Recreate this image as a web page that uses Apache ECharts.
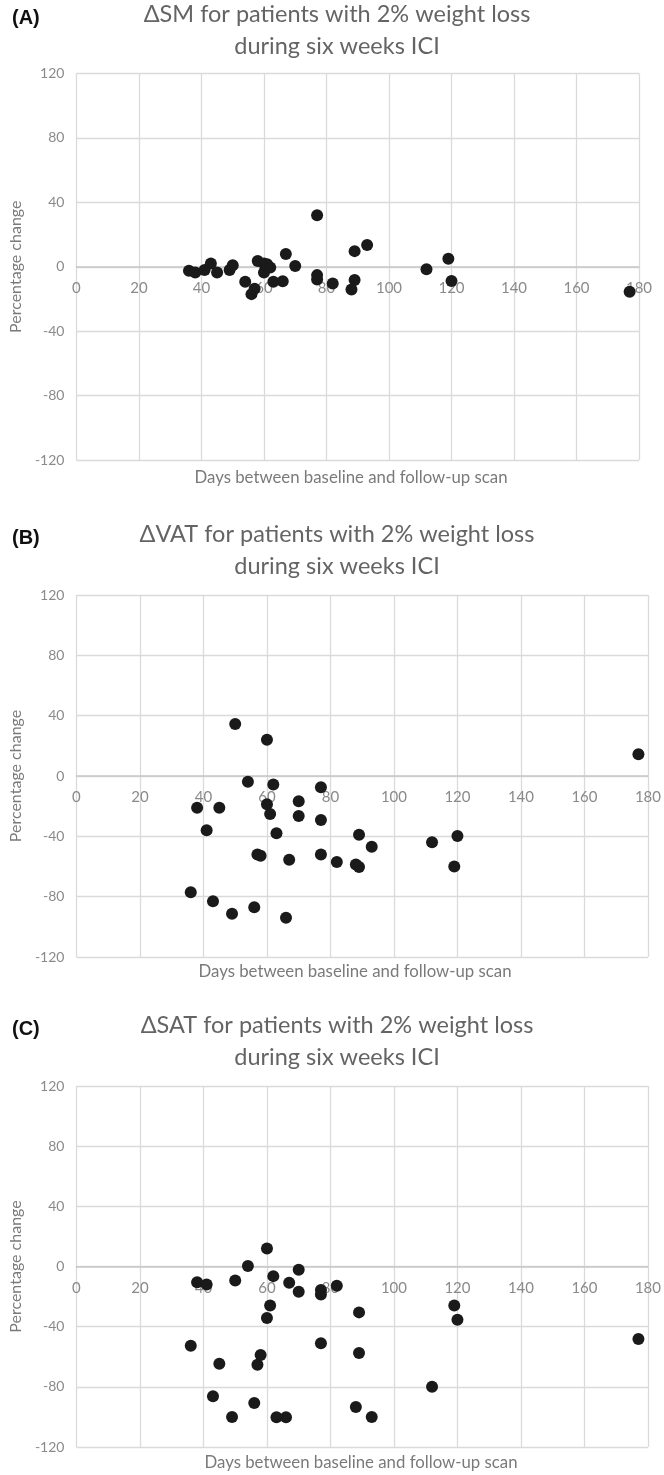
<!DOCTYPE html>
<html>
<head>
<meta charset="utf-8">
<script src="https://cdn.jsdelivr.net/npm/echarts@6/dist/echarts.min.js"></script>
<style>
html,body{margin:0;padding:0;background:#fff;}
#chart{width:664px;height:1475px;}
</style>
</head>
<body>
<div id="chart"></div>
<script>
// ---- data ----
const panelLetters = ['(A)', '(B)', '(C)'];
const panelTitles = [
  'ΔSM for patients with 2% weight loss\nduring six weeks ICI',
  'ΔVAT for patients with 2% weight loss\nduring six weeks ICI',
  'ΔSAT for patients with 2% weight loss\nduring six weeks ICI'
];
const xAxisName = 'Days between baseline and follow-up scan';
const yAxisName = 'Percentage change';

const daysA = [36,38,41,43,45,49,50,54,56,57,58,60,60,61,62,63,66,67,70,77,77,77,82,88,89,89,93,112,119,120,177];
const smChange = [-2.5,-3.5,-2,2,-3.5,-2,1,-9.3,-17,-13.7,3.5,2,-3.5,1.5,-0.5,-9.3,-9,7.9,0.4,32,-5.2,-7.9,-10.4,-14.1,9.7,-8.3,13.5,-1.5,5,-8.9,-15.5];

const daysB = [36,38,41,43,45,49,50,54,56,57,58,60,60,61,62,63,66,67,70,70,77,77,77,82,88,89,89,93,112,119,120,177];
const vatChange = [-77,-21,-36,-83,-21,-91.3,34.5,-3.8,-87,-52,-52.8,24,-18.8,-25.2,-5.7,-38,-94,-55.5,-16.8,-26.5,-7.5,-29.2,-52,-57,-58.7,-39,-60.4,-46.9,-44,-60,-39.8,14.4];

const daysC = [36,38,41,43,45,49,50,54,56,57,58,60,60,61,62,63,66,67,70,70,77,77,77,82,88,89,89,93,112,119,120,177];
const satChange = [-52.7,-10.4,-12,-86.3,-64.6,-100,-9.3,0.4,-90.7,-65.3,-58.8,12,-34.3,-25.9,-6.4,-100.2,-100.2,-10.8,-2.2,-16.8,-15.7,-18.6,-51.1,-12.8,-93.4,-30.5,-57.5,-100,-79.9,-25.9,-35.4,-48.2];

const xMin = 0, xMax = 180, xStep = 20;
const yMin = -120, yMax = 120, yStep = 40;

// ---- layout ----
const FONT = 'Lato';
const grids = [
  {left: 65, right: 25, top: 73.5, height: 386.5},
  {left: 66, right: 16, top: 595, height: 362},
  {left: 66, right: 16, top: 1086, height: 361}
];
const titleTops = [-7, 513, 1004];
const letterTops = [1, 521, 1012];
const xNameTops = [462, 956, 1447];
const xNameCenters = [346, 350, 356];
const seriesData = [
  daysA.map((d, i) => [d, smChange[i]]),
  daysB.map((d, i) => [d, vatChange[i]]),
  daysC.map((d, i) => [d, satChange[i]])
];

const titles = [];
const xAxes = [], yAxes = [], series = [];
for (let k = 0; k < 3; k++) {
  titles.push({
    text: panelTitles[k], left: 332, textAlign: 'center', top: titleTops[k],
    textStyle: {fontFamily: FONT, fontSize: 23.5, fontWeight: 'normal', color: '#646464', lineHeight: 32}
  });
  titles.push({
    text: panelLetters[k], left: 7, top: letterTops[k],
    textStyle: {fontFamily: 'Liberation Sans', fontSize: 20, fontWeight: 'bold', color: '#111', lineHeight: 24}
  });
  titles.push({
    text: xAxisName, left: xNameCenters[k], textAlign: 'center', top: xNameTops[k],
    textStyle: {fontFamily: FONT, fontSize: 16.8, fontWeight: 'normal', color: '#7a7a7a', lineHeight: 22}
  });
  xAxes.push({
    gridIndex: k, type: 'value', min: xMin, max: xMax, interval: xStep,
    position: 'bottom', offset: -grids[k].height / 2,
    axisLine: {show: true, onZero: false, lineStyle: {color: '#c8c8c8', width: 1.5}},
    axisTick: {show: false},
    axisLabel: {fontFamily: FONT, fontSize: 15, color: '#8a8a8a', margin: 14},
    splitLine: {show: true, lineStyle: {color: '#dadada', width: 1.3}}
  });
  yAxes.push({
    gridIndex: k, type: 'value', min: yMin, max: yMax, interval: yStep,
    name: yAxisName, nameLocation: 'middle', nameGap: 44, nameRotate: 90,
    nameTextStyle: {fontFamily: FONT, fontSize: 16, color: '#7a7a7a'},
    axisLine: {show: false},
    axisTick: {show: false},
    axisLabel: {fontFamily: FONT, fontSize: 14, color: '#8a8a8a', margin: 12},
    splitLine: {show: true, lineStyle: {color: '#dadada', width: 1.3}}
  });
  series.push({
    type: 'scatter', xAxisIndex: k, yAxisIndex: k, data: seriesData[k],
    symbol: 'circle', symbolSize: 12,
    itemStyle: {color: '#1a1a1a', opacity: 1}, silent: true
  });
}

const chart = echarts.init(document.getElementById('chart'), null, {renderer: 'canvas'});
chart.setOption({
  backgroundColor: '#ffffff',
  animation: false,
  title: titles,
  grid: grids,
  xAxis: xAxes,
  yAxis: yAxes,
  series: series
});
</script>
</body>
</html>
